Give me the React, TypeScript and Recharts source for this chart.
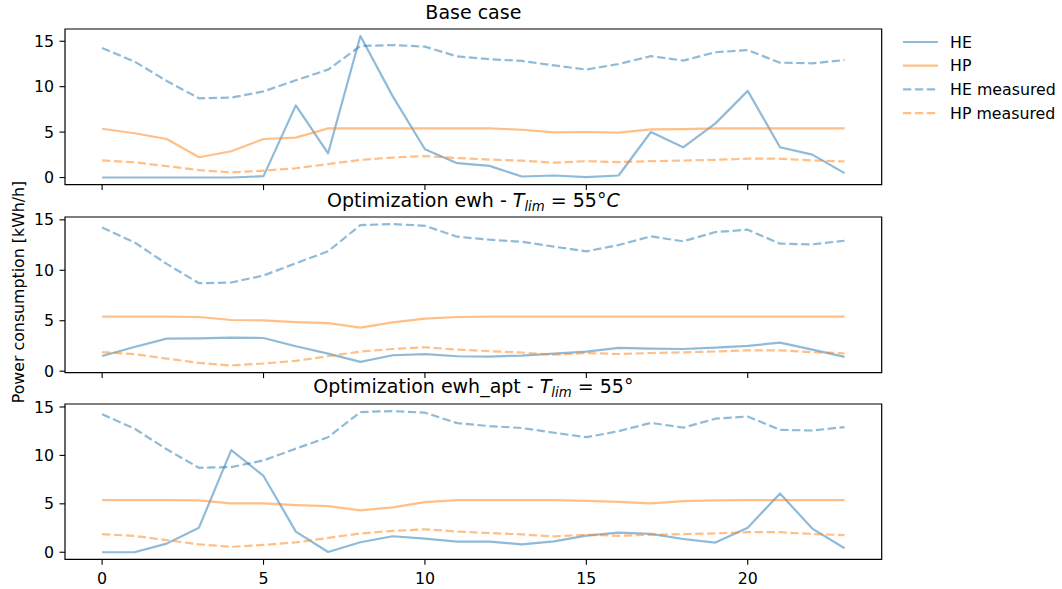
import React from 'react';
import { LineChart, Line, XAxis, YAxis, ReferenceArea, Legend } from 'recharts';

// ---- data ----
const hours = [0, 1, 2, 3, 4, 5, 6, 7, 8, 9, 10, 11, 12, 13, 14, 15, 16, 17, 18, 19, 20, 21, 22, 23];

const heMeasured = [14.25, 12.77, 10.63, 8.72, 8.79, 9.48, 10.7, 11.88, 14.48, 14.58, 14.41, 13.33, 13.03, 12.83, 12.34, 11.88, 12.5, 13.36, 12.87, 13.79, 14.02, 12.64, 12.57, 12.93];
const hpMeasured = [1.88, 1.68, 1.25, 0.82, 0.56, 0.76, 1.02, 1.48, 1.94, 2.2, 2.37, 2.14, 1.98, 1.85, 1.63, 1.8, 1.7, 1.8, 1.87, 1.95, 2.07, 2.07, 1.88, 1.77];

const baseHE = [0, 0, 0, 0, 0, 0.15, 7.94, 2.67, 15.57, 8.96, 3.11, 1.58, 1.28, 0.11, 0.22, 0.04, 0.22, 5.01, 3.33, 5.96, 9.54, 3.33, 2.52, 0.48];
const baseHP = [5.37, 4.87, 4.24, 2.23, 2.89, 4.24, 4.39, 5.41, 5.41, 5.41, 5.41, 5.41, 5.41, 5.26, 4.97, 5.01, 4.94, 5.3, 5.33, 5.41, 5.41, 5.41, 5.41, 5.41];

const ewhHE = [1.51, 2.4, 3.23, 3.26, 3.32, 3.29, 2.47, 1.74, 0.92, 1.58, 1.68, 1.48, 1.45, 1.55, 1.74, 1.94, 2.3, 2.24, 2.2, 2.34, 2.5, 2.83, 2.14, 1.41];
const ewhHP = [5.4, 5.4, 5.4, 5.37, 5.07, 5.04, 4.87, 4.77, 4.31, 4.84, 5.2, 5.37, 5.4, 5.4, 5.4, 5.4, 5.4, 5.4, 5.4, 5.4, 5.4, 5.4, 5.4, 5.4];

const aptHE = [0, 0, 0.89, 2.54, 10.55, 7.88, 2.13, 0.03, 1.03, 1.65, 1.41, 1.1, 1.1, 0.82, 1.13, 1.72, 2.02, 1.89, 1.37, 1.0, 2.54, 6.07, 2.44, 0.41];
const aptHP = [5.38, 5.38, 5.38, 5.35, 5.04, 5.04, 4.87, 4.76, 4.32, 4.63, 5.18, 5.38, 5.38, 5.38, 5.38, 5.31, 5.21, 5.04, 5.28, 5.35, 5.38, 5.38, 5.38, 5.38];

const xTicks = [0, 5, 10, 15, 20];
const yTicks = [0, 5, 10, 15];

const seriesNames = ['HE', 'HP', 'HE measured', 'HP measured'];
const yLabel = 'Power consumption [kWh/h]';

// ---- style / layout ----
const FONT = '"DejaVu Sans", "Noto Sans", sans-serif';
const BLUE = '#1f77b4';
const ORANGE = '#ff7f0e';
const LW = 2.2;
const DASH = '8.3 3.6';
const W = 1062;
const H = 589;
const PLOT_LEFT = 65;
const PLOT_RIGHT = 881.7;
const TOP_PAD = 25;
const XAXIS_H = 30;
const TICK_FS = 15.8;
const TITLE_FS = 19;

const seriesStyle = [
  { key: 'he', color: BLUE, dash: undefined },
  { key: 'hp', color: ORANGE, dash: undefined },
  { key: 'heM', color: BLUE, dash: DASH },
  { key: 'hpM', color: ORANGE, dash: DASH },
];

const panels = [
  { id: 'base', top: 28.7, bottom: 184.3, he: baseHE, hp: baseHP, labels: false },
  { id: 'ewh', top: 216.7, bottom: 372.3, he: ewhHE, hp: ewhHP, labels: false },
  { id: 'apt', top: 404, bottom: 559.3, he: aptHE, hp: aptHP, labels: true },
];

const xDomain: [number, number] = [hours[0] - 0.05 * (hours[hours.length - 1] - hours[0]), hours[hours.length - 1] + 0.05 * (hours[hours.length - 1] - hours[0])];

function padDomain(arrs: number[][]): [number, number] {
  let lo = Infinity;
  let hi = -Infinity;
  arrs.forEach((a) => a.forEach((v) => { if (v < lo) lo = v; if (v > hi) hi = v; }));
  const r = hi - lo;
  return [lo - 0.05 * r, hi + 0.05 * r];
}

const NoTick = () => <g />;

const LegendBox = () => (
  <svg width={175} height={100} style={{ display: 'block', overflow: 'visible' }}>
    {seriesNames.map((name, i) => {
      const s = seriesStyle[i];
      const y = 14 + i * 23.7;
      return (
        <g key={name}>
          <line x1={8} x2={43} y1={y} y2={y} stroke={s.color} strokeOpacity={0.5} strokeWidth={LW} strokeDasharray={s.dash} />
          <text x={55} y={y} dy="0.36em" fontSize={TICK_FS} fontFamily={FONT} fill="#000">{name}</text>
        </g>
      );
    })}
  </svg>
);

function Panel({ p, idx }: { p: typeof panels[number]; idx: number }) {
  const data = hours.map((h, i) => ({ hour: h, he: p.he[i], hp: p.hp[i], heM: heMeasured[i], hpM: hpMeasured[i] }));
  const yDomain = padDomain([p.he, p.hp, heMeasured, hpMeasured]);
  const chartTop = p.top - TOP_PAD;
  const chartH = TOP_PAD + (p.bottom - p.top) + XAXIS_H;
  return (
    <div style={{ position: 'absolute', left: 0, top: chartTop, width: W, height: chartH }}>
      <LineChart
        width={W}
        height={chartH}
        data={data}
        margin={{ top: TOP_PAD, right: W - PLOT_RIGHT, bottom: 0, left: 0 }}
        style={{ fontFamily: FONT }}
      >
        <XAxis
          dataKey="hour"
          type="number"
          domain={xDomain}
          ticks={xTicks}
          allowDataOverflow
          height={XAXIS_H}
          axisLine={false}
          tickLine={{ stroke: '#000', strokeWidth: 1.1 }}
          tickSize={5.5}
          tickMargin={8}
          tick={p.labels ? { fill: '#000', fontSize: TICK_FS, fontFamily: FONT } : NoTick}
          interval={0}
        />
        <YAxis
          type="number"
          domain={yDomain}
          ticks={yTicks}
          allowDataOverflow
          width={PLOT_LEFT}
          axisLine={false}
          tickLine={{ stroke: '#000', strokeWidth: 1.1 }}
          tickSize={5.5}
          tickMargin={5.5}
          tick={{ fill: '#000', fontSize: TICK_FS, fontFamily: FONT }}
          interval={0}
        />
        {seriesStyle.map((s, i) => (
          <Line
            key={s.key}
            name={seriesNames[i]}
            type="linear"
            dataKey={s.key}
            stroke={s.color}
            strokeOpacity={0.5}
            strokeWidth={LW}
            strokeDasharray={s.dash}
            strokeLinejoin="round"
            dot={false}
            activeDot={false}
            isAnimationActive={false}
          />
        ))}
        <ReferenceArea
          x1={xDomain[0]}
          x2={xDomain[1]}
          y1={yDomain[0]}
          y2={yDomain[1]}
          fill="none"
          fillOpacity={0}
          stroke="#000"
          strokeWidth={1.2}
          ifOverflow="visible"
        />
        {idx === 0 && (
          <Legend
            layout="vertical"
            align="center"
            verticalAlign="middle"
            content={<LegendBox />}
            wrapperStyle={{ left: 895, top: 42.3 - 14 - chartTop, width: 175, height: 100 }}
          />
        )}
      </LineChart>
    </div>
  );
}

function Titles() {
  const cx = (PLOT_LEFT + PLOT_RIGHT) / 2;
  return (
    <svg width={W} height={H} style={{ position: 'absolute', left: 0, top: 0, pointerEvents: 'none' }} fontFamily={FONT}>
      <text x={cx} y={panels[0].top - 10.2} textAnchor="middle" fontSize={TITLE_FS} fill="#000">Base case</text>
      <text x={cx} y={panels[1].top - 10.2} textAnchor="middle" fontSize={TITLE_FS} fill="#000" style={{ whiteSpace: 'pre' }}>
        {'Optimization ewh - '}
        <tspan fontStyle="italic">T</tspan>
        <tspan fontStyle="italic" fontSize={13.3} dy={4}>lim</tspan>
        <tspan dy={-4}>{' = 55°'}</tspan>
        <tspan fontStyle="italic">C</tspan>
      </text>
      <text x={cx} y={panels[2].top - 11} textAnchor="middle" fontSize={TITLE_FS} fill="#000" style={{ whiteSpace: 'pre' }}>
        {'Optimization ewh_apt - '}
        <tspan fontStyle="italic">T</tspan>
        <tspan fontStyle="italic" fontSize={13.3} dy={4}>lim</tspan>
        <tspan dy={-4}>{' = 55°'}</tspan>
      </text>
      <text
        transform={`translate(23.5, ${(panels[0].top + panels[2].bottom) / 2 - 2}) rotate(-90)`}
        textAnchor="middle"
        fontSize={TICK_FS}
        fill="#000"
      >
        {yLabel}
      </text>
    </svg>
  );
}

export default function App() {
  return (
    <div style={{ position: 'absolute', left: 0, top: 0, width: W, height: H, background: '#fff', fontFamily: FONT, overflow: 'hidden' }}>
      {panels.map((p, i) => (
        <Panel key={p.id} p={p} idx={i} />
      ))}
      <Titles />
    </div>
  );
}
